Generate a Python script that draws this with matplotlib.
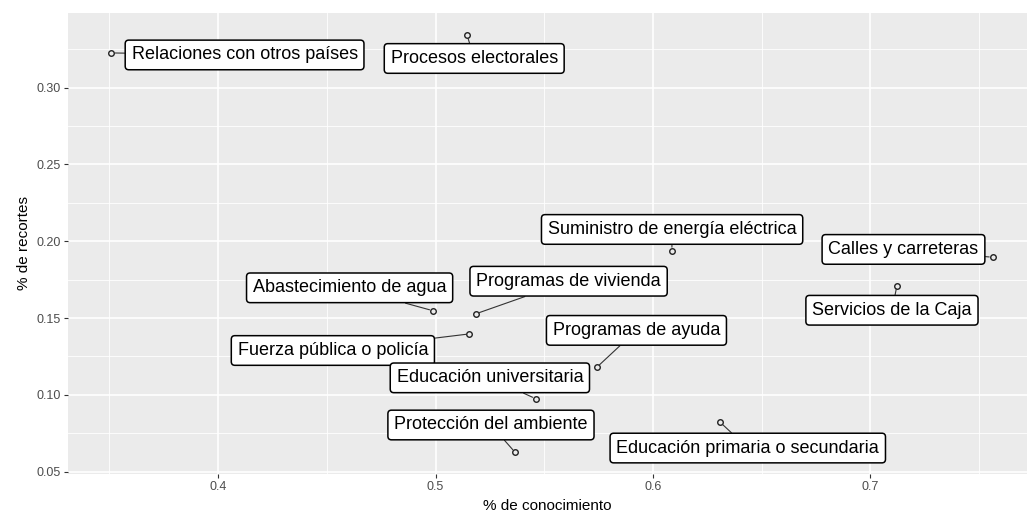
"""Conocimiento vs. recortes por tema, estilo ggplot con etiquetas repelidas."""

import numpy as np
from matplotlib import pyplot as plt
from matplotlib.ticker import MultipleLocator

# datos
temas = ['Relaciones con otros países', 'Procesos electorales', 'Suministro de energía eléctrica',
         'Calles y carreteras', 'Servicios de la Caja', 'Abastecimiento de agua',
         'Programas de vivienda', 'Fuerza pública o policía', 'Programas de ayuda',
         'Educación universitaria', 'Protección del ambiente', 'Educación primaria o secundaria']
conocimiento = [0.351, 0.5145, 0.6087, 0.7562, 0.7122, 0.4988,
                0.5184, 0.5156, 0.5742, 0.5461, 0.5366, 0.6309]
recortes = [0.3226, 0.3343, 0.1939, 0.1896, 0.1711, 0.1548,
            0.1527, 0.1397, 0.118, 0.0975, 0.0626, 0.0822]

# posiciones de las etiquetas (centro de la caja, coordenadas de datos)
label_x = [0.4122, 0.5178, 0.6088, 0.7152, 0.7099, 0.4605,
           0.5612, 0.4528, 0.5924, 0.525, 0.5255, 0.6436]
label_y = [0.3213, 0.3190, 0.2077, 0.1947, 0.1551, 0.1697,
           0.1740, 0.1289, 0.1420, 0.1111, 0.0804, 0.0654]

plt.rcParams['font.family'] = ['Liberation Sans', 'DejaVu Sans']

fig = plt.figure(figsize=(10.32, 5.2), dpi=100)
ax = fig.add_axes([68 / 1032, 1 - 474 / 520, (1027 - 68) / 1032, (474 - 13) / 520])
ax.set_facecolor('#EBEBEB')
for s in ax.spines.values():
    s.set_visible(False)

ax.set_xlim(0.331, 0.772)
ax.set_ylim(0.0485, 0.3486)
ax.xaxis.set_major_locator(MultipleLocator(0.1))
ax.xaxis.set_minor_locator(MultipleLocator(0.05))
ax.yaxis.set_major_locator(MultipleLocator(0.05))
ax.yaxis.set_minor_locator(MultipleLocator(0.025))
ax.set_xticks([0.4, 0.5, 0.6, 0.7])
ax.set_xticklabels(['0.4', '0.5', '0.6', '0.7'])
ax.set_yticks([0.05, 0.10, 0.15, 0.20, 0.25, 0.30])
ax.set_yticklabels(['0.05', '0.10', '0.15', '0.20', '0.25', '0.30'])
ax.grid(which='major', color='white', linewidth=1.2)
ax.grid(which='minor', color='white', linewidth=0.6)
ax.set_axisbelow(True)
ax.tick_params(which='major', length=3, width=0.8, color='#333333', labelcolor='#4D4D4D',
               labelsize=9, pad=2)
ax.tick_params(which='minor', length=0)

ax.plot(conocimiento, recortes, linestyle='none', marker='o', markersize=4,
        markerfacecolor='none', markeredgecolor='#222222', markeredgewidth=1, zorder=3)

for tema, x, y, lx, ly in zip(temas, conocimiento, recortes, label_x, label_y):
    ax.annotate(tema, xy=(x, y), xytext=(lx, ly), ha='center', va='center',
                fontsize=13, color='black', zorder=4,
                bbox=dict(boxstyle='round,pad=0.35,rounding_size=0.2', fc='white', ec='black', lw=1.1),
                arrowprops=dict(arrowstyle='-', color='#333333', lw=0.8, shrinkA=0, shrinkB=2.5))

ax.set_xlabel('% de conocimiento', fontsize=11, labelpad=4)
ax.set_ylabel('% de recortes', fontsize=11, labelpad=4)

fig.savefig('out.png', dpi=100)
